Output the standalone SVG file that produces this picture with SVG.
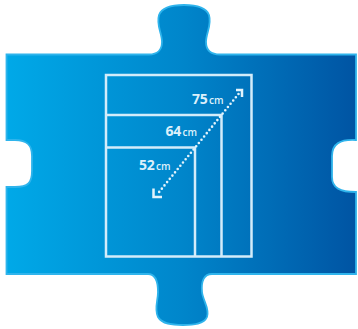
<svg xmlns="http://www.w3.org/2000/svg" width="358" height="329" viewBox="0 0 358 329">
  <defs>
    <linearGradient id="bg" x1="0" y1="0" x2="1" y2="0">
      <stop offset="0" stop-color="#00a9e8"/>
      <stop offset="0.5" stop-color="#0086cb"/>
      <stop offset="1" stop-color="#0054a3"/>
    </linearGradient>
    <style>
      .frame { fill: none; stroke: #d3ecfa; stroke-width: 2.5; }
      .num { font-family: "Open Sans", "Liberation Sans", sans-serif; font-weight: 700; font-size: 14px; fill: #dcf0fb; letter-spacing: -0.3px; }
      .unit { font-family: "Open Sans", "Liberation Sans", sans-serif; font-weight: 600; font-size: 10px; fill: #dcf0fb; }
      .dots { fill: none; stroke: #e2f3fc; stroke-width: 2.6; stroke-linecap: round; stroke-dasharray: 0 4.2; }
      .corner { fill: none; stroke: #e2f3fc; stroke-width: 2.5; }
    </style>
  </defs>
  <g id="puzzle">
    <path d="M 6.5 54.5 H 149 C 157 54.5 162 50 162 42 C 162 33 156 25 159 15 C 162 7 172 5 184 5 C 196 5 206 7 209 15 C 212 25 206 33 206 42 C 206 50 211 54.5 220 54.5 H 356 V 140 C 340 139 332 144 332 156 L 332 177 C 332 188 340 192 356 192 V 274 H 212 C 204 274 201 281 202 292 C 203 301 210 309 207 317 C 204 324 194 325 183 325 C 172 325 162 324 158 317 C 154 309 158 301 158 292 C 158 281 155 274 148 274 H 6.5 V 187 H 15 C 28 187 32 183 32 171 V 156 C 32 145 27 140 15 140 H 6.5 Z" fill="url(#bg)" stroke="#2fb4ec" stroke-width="1.8"/>
  </g>
  <g id="size-75">
    <rect class="frame" x="106" y="75" width="145.5" height="181.5"/>
    <text x="192" y="104"><tspan class="num">75</tspan><tspan class="unit" dx="1.5">cm</tspan></text>
  </g>
  <g id="size-64">
    <path class="frame" d="M 106 115 H 221.5 V 256.5"/>
    <text x="165.5" y="136"><tspan class="num">64</tspan><tspan class="unit" dx="1.5">cm</tspan></text>
  </g>
  <g id="size-52">
    <path class="frame" d="M 106 147.5 H 195 V 256.5"/>
    <text x="139" y="170"><tspan class="num">52</tspan><tspan class="unit" dx="1.5">cm</tspan></text>
  </g>
  <g id="connectors">
    <line class="dots" x1="238.5" y1="94" x2="157.5" y2="194"/>
    <path class="corner" d="M 236 90 H 242 V 97"/>
    <path class="corner" d="M 153.5 188.5 V 197 H 162"/>
  </g>
</svg>
